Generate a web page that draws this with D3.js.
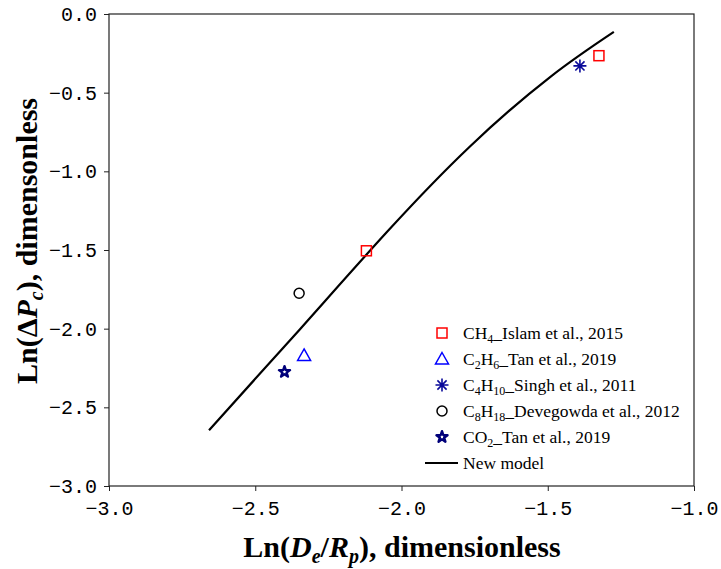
<!DOCTYPE html>
<html>
<head>
<meta charset="utf-8">
<script src="https://cdn.jsdelivr.net/npm/d3@7"></script>
<style>
  body { margin: 0; background: #fff; }
  svg { display: block; }
</style>
</head>
<body>
<script>
// data
var seriesNames = ["CH4", "C2H6", "C4H10", "C8H18", "CO2"];
var seriesX = [[-2.12, -1.325], [-2.333], [-1.39], [-2.35], [-2.40]];
var seriesY = [[-1.505, -0.265], [-2.17], [-0.33], [-1.775], [-2.275]];
var legendParts = [
  [["CH", 0], ["4", 1], ["_Islam et al., 2015", 0]],
  [["C", 0], ["2", 1], ["H", 0], ["6", 1], ["_Tan et al., 2019", 0]],
  [["C", 0], ["4", 1], ["H", 0], ["10", 1], ["_Singh et al., 2011", 0]],
  [["C", 0], ["8", 1], ["H", 0], ["18", 1], ["_Devegowda et al., 2012", 0]],
  [["CO", 0], ["2", 1], ["_Tan et al., 2019", 0]]
];
var modelX = [-2.658, -2.347, -2.050, -1.766, -1.492, -1.274];
var modelY = [-2.645, -2.003, -1.386, -0.842, -0.401, -0.114];
var xTicks = [-3.0, -2.5, -2.0, -1.5, -1.0];
var yTicks = [0.0, -0.5, -1.0, -1.5, -2.0, -2.5, -3.0];

var margin = {top: 14, right: 27, bottom: 83, left: 109},
	W = 721, H = 569,
	width = W - margin.left - margin.right,
	height = H - margin.top - margin.bottom;

var colors = ["#ff0000", "#0000ff", "#0a0a9a", "#000000", "#00007a"];

var x = d3.scaleLinear().domain([-3, -1]).range([0, width]);
var y = d3.scaleLinear().domain([-3, 0]).range([height, 0]);

var svg = d3.select("body").append("svg")
	.attr("width", W)
	.attr("height", H);
var g = svg.append("g")
	.attr("transform", "translate(" + margin.left + "," + margin.top + ")");

var fmt = function(d) { return d3.format(".1f")(d).replace("-", "\u2212"); };

var xAxis = g.append("g")
	.attr("transform", "translate(0," + height + ")")
	.call(d3.axisBottom(x).tickValues(xTicks).tickFormat(fmt).tickSize(5).tickPadding(5));
var yAxis = g.append("g")
	.call(d3.axisLeft(y).tickValues(yTicks).tickFormat(fmt).tickSize(5).tickPadding(7));

[xAxis, yAxis].forEach(function(a) {
	a.select(".domain").remove();
	a.selectAll("line").attr("stroke", "#222");
	a.selectAll("text")
		.attr("fill", "#000")
		.style("font-family", "'Liberation Mono', monospace")
		.style("font-size", "20px");
});
xAxis.selectAll("text").attr("dy", "0.95em");

// frame
g.append("rect")
	.attr("width", width)
	.attr("height", height)
	.attr("fill", "none")
	.attr("stroke", "#222")
	.attr("stroke-width", 1.2);

// model line
var line = d3.line()
	.x(function(d) { return x(d[0]); })
	.y(function(d) { return y(d[1]); })
	.curve(d3.curveNatural);
g.append("path")
	.datum(d3.zip(modelX, modelY))
	.attr("d", line)
	.attr("fill", "none")
	.attr("stroke", "#000")
	.attr("stroke-width", 2.2);

// marker shapes
function marker(sel, i) {
	var c = colors[i];
	if (i === 0) {
		sel.append("rect").attr("x", -5).attr("y", -5).attr("width", 10).attr("height", 10)
			.attr("fill", "none").attr("stroke", c).attr("stroke-width", 1.5);
	} else if (i === 1) {
		sel.append("path").attr("d", "M0,-6.5L6.5,5L-6.5,5Z")
			.attr("fill", "none").attr("stroke", c).attr("stroke-width", 1.5);
	} else if (i === 2) {
		sel.append("path").attr("d", "M0,-6.5V6.5M-6.5,0H6.5M-4.6,-4.6L4.6,4.6M-4.6,4.6L4.6,-4.6")
			.attr("fill", "none").attr("stroke", c).attr("stroke-width", 1.6);
	} else if (i === 3) {
		sel.append("circle").attr("r", 5)
			.attr("fill", "none").attr("stroke", c).attr("stroke-width", 1.5);
	} else {
		sel.append("path").attr("d", d3.symbol().type(d3.symbolStar).size(38)())
			.attr("fill", "none").attr("stroke", c).attr("stroke-width", 2.4)
			.attr("stroke-linejoin", "round");
	}
}

seriesNames.forEach(function(name, i) {
	g.selectAll(".pt" + i)
		.data(d3.zip(seriesX[i], seriesY[i]))
		.enter().append("g")
		.attr("class", "pt" + i)
		.attr("transform", function(d) { return "translate(" + x(d[0]) + "," + y(d[1]) + ")"; })
		.each(function() { marker(d3.select(this), i); });
});

// legend
var serif = "'Liberation Serif', 'Times New Roman', serif";
var legend = svg.append("g").attr("transform", "translate(442,333)");
var rowH = 26;
legendParts.forEach(function(parts, i) {
	var row = legend.append("g").attr("transform", "translate(0," + i * rowH + ")");
	marker(row, i);
	var t = row.append("text")
		.attr("x", 21)
		.attr("y", 6)
		.style("font-family", serif)
		.style("font-size", "17.5px");
	var sub = false;
	parts.forEach(function(p) {
		var ts = t.append("tspan").text(p[0]);
		if (p[1] && !sub) { ts.attr("dy", 4).style("font-size", "12px"); sub = true; }
		else if (!p[1] && sub) { ts.attr("dy", -4); sub = false; }
		else if (p[1]) ts.style("font-size", "12px");
	});
});
var lrow = legend.append("g").attr("transform", "translate(0," + 5 * rowH + ")");
lrow.append("line").attr("x1", -17).attr("x2", 16).attr("stroke", "#000").attr("stroke-width", 2.2);
lrow.append("text").attr("x", 21).attr("y", 6)
	.style("font-family", serif)
	.style("font-size", "17.5px")
	.text("New model");

// axis titles
var xt = svg.append("text")
	.attr("x", 402)
	.attr("y", 557)
	.attr("text-anchor", "middle")
	.style("font-family", serif)
	.style("font-weight", "bold")
	.style("font-size", "30px");
xt.append("tspan").text("Ln(");
xt.append("tspan").text("D").style("font-style", "italic");
xt.append("tspan").text("e").style("font-style", "italic").style("font-size", "20px").attr("dy", 6);
xt.append("tspan").text("/").attr("dy", -6);
xt.append("tspan").text("R").style("font-style", "italic");
xt.append("tspan").text("p").style("font-style", "italic").style("font-size", "20px").attr("dy", 6);
xt.append("tspan").text("), dimensionless").attr("dy", -6);

var yt = svg.append("text")
	.attr("transform", "translate(37," + 241 + ") rotate(-90)")
	.attr("text-anchor", "middle")
	.style("font-family", serif)
	.style("font-weight", "bold")
	.style("font-size", "30px");
yt.append("tspan").text("Ln(\u0394");
yt.append("tspan").text("P").style("font-style", "italic");
yt.append("tspan").text("c").style("font-style", "italic").style("font-size", "20px").attr("dy", 6);
yt.append("tspan").text("), dimensonless").attr("dy", -6);
</script>
</body>
</html>
